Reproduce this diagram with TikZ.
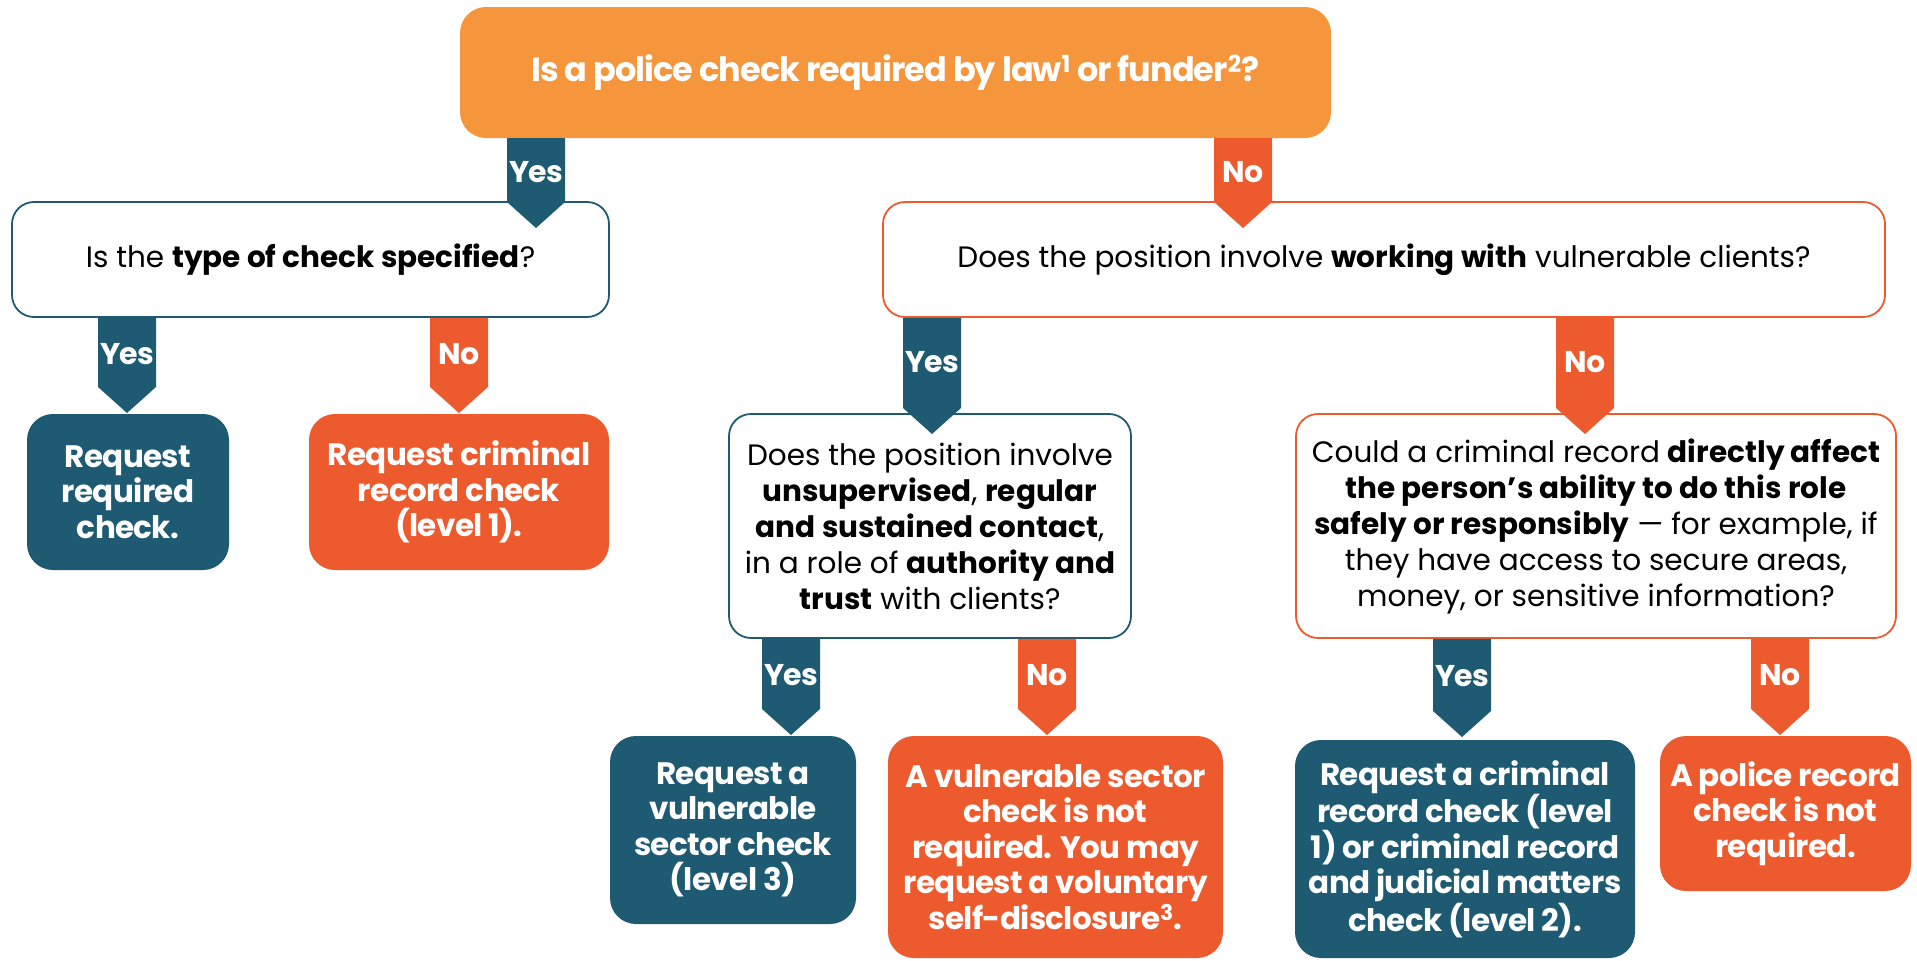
\documentclass[tikz,border=0pt]{standalone}
\usepackage{fontspec}
\setmainfont{Poppins}
\usetikzlibrary{calc}
\definecolor{checkblue}{RGB}{31,90,115}
\definecolor{checkorange}{RGB}{246,150,60}
\definecolor{checkred}{RGB}{236,90,45}

\begin{document}
\begin{tikzpicture}[x=1pt, y=-1pt,
    question/.style={rectangle, draw, line width=1.8pt, rounded corners=22pt, fill=white, align=center, inner sep=2pt, font=\fontsize{29.5}{36}\selectfont},
    answer/.style={rectangle, rounded corners=26pt, text=white, align=center, inner sep=2pt, font=\bfseries\fontsize{31}{35.5}\selectfont\addfontfeatures{LetterSpace=-2}},
    branch/.style={fill=#1, to path={let \p1=(\tikztostart), \p2=(\tikztotarget) in
        (\x1-29pt,\y1) -- (\x1-29pt,\y2+26pt) -- (\x1,\y2) -- (\x1+29pt,\y2+26pt) -- (\x1+29pt,\y1) -- cycle
        (\x1,\y1) -- (\x1,\y2) \tikztonodes}},
    yesarrow/.style={branch=checkblue},
    noarrow/.style={branch=checkred},
    choice/.style={text=white, pos=0.38, inner sep=0pt, font=\bfseries\fontsize{30}{30}\selectfont\addfontfeatures{LetterSpace=-3}}
]
    \useasboundingbox (0,0) rectangle (1917,961);

    % Questions
    \node[fill=checkorange, rounded corners=26pt, minimum width=871pt, minimum height=131pt, text=white, font=\bfseries\fontsize{33.5}{36}\selectfont\addfontfeatures{LetterSpace=-3}] (police) at (895.5,72.5) {Is a police check required by law\textsuperscript{1} or funder\textsuperscript{2}?};
    \node[question, draw=checkblue, minimum width=597pt, minimum height=115pt] (type) at (310.5,259.5) {Is the \textbf{type of check specified}?};
    \node[question, draw=checkred, minimum width=1002pt, minimum height=115pt] (working) at (1384,259.5) {Does the position involve \textbf{working with} vulnerable clients?};
    \node[question, draw=checkblue, minimum width=402pt, minimum height=224pt] (contact) at (930,526) {Does the position involve\\\textbf{unsupervised}, \textbf{regular}\\\textbf{and sustained contact},\\in a role of \textbf{authority and}\\\textbf{trust} with clients?};
    \node[question, draw=checkred, minimum width=600pt, minimum height=224pt] (affect) at (1596,526) {Could a criminal record \textbf{directly affect}\\\textbf{the person’s ability to do this role}\\\textbf{safely or responsibly} — for example, if\\they have access to secure areas,\\money, or sensitive information?};

    % Outcomes
    \node[answer, fill=checkblue, minimum width=202pt, minimum height=156pt] (required) at (128,492) {Request\\required\\check.};
    \node[answer, fill=checkred, minimum width=300pt, minimum height=156pt] (level1) at (459,492) {Request criminal\\record check\\(level 1).};
    \node[answer, fill=checkblue, minimum width=246pt, minimum height=188pt] (level3) at (733,830) {Request a\\vulnerable\\sector check\\(level 3)};
    \node[answer, fill=checkred, minimum width=335pt, minimum height=222pt] (voluntary) at (1055.5,847) {A vulnerable sector\\check is not\\required. You may\\request a voluntary\\self-disclosure\textsuperscript{3}.};
    \node[answer, fill=checkblue, minimum width=340pt, minimum height=218pt] (level12) at (1465,849) {Request a criminal\\record check (level\\1) or criminal record\\and judicial matters\\check (level 2).};
    \node[answer, fill=checkred, minimum width=251pt, minimum height=155pt] (notrequired) at (1785.5,813.5) {A police record\\check is not\\required.};

    % Arrow tips
    \coordinate (t1) at (536,228);
    \coordinate (t2) at (1243,228);
    \coordinate (t3) at (127,413);
    \coordinate (t4) at (459,413);
    \coordinate (t5) at (932,434);
    \coordinate (t6) at (1585,434);
    \coordinate (t7) at (791,735);
    \coordinate (t8) at (1047,735);
    \coordinate (t9) at (1462,737);
    \coordinate (t10) at (1780,735);

    % Yes / No branches
    \path[yesarrow] (police.south -| t1) to node[choice] {Yes} (t1);
    \path[noarrow] (police.south -| t2) to node[choice] {No} (t2);
    \path[yesarrow] (type.south -| t3) to node[choice] {Yes} (t3);
    \path[noarrow] (type.south -| t4) to node[choice] {No} (t4);
    \path[yesarrow] (working.south -| t5) to node[choice] {Yes} (t5);
    \path[noarrow] (working.south -| t6) to node[choice] {No} (t6);
    \path[yesarrow] (contact.south -| t7) to node[choice] {Yes} (t7);
    \path[noarrow] (contact.south -| t8) to node[choice] {No} (t8);
    \path[yesarrow] (affect.south -| t9) to node[choice] {Yes} (t9);
    \path[noarrow] (affect.south -| t10) to node[choice] {No} (t10);
\end{tikzpicture}
\end{document}
